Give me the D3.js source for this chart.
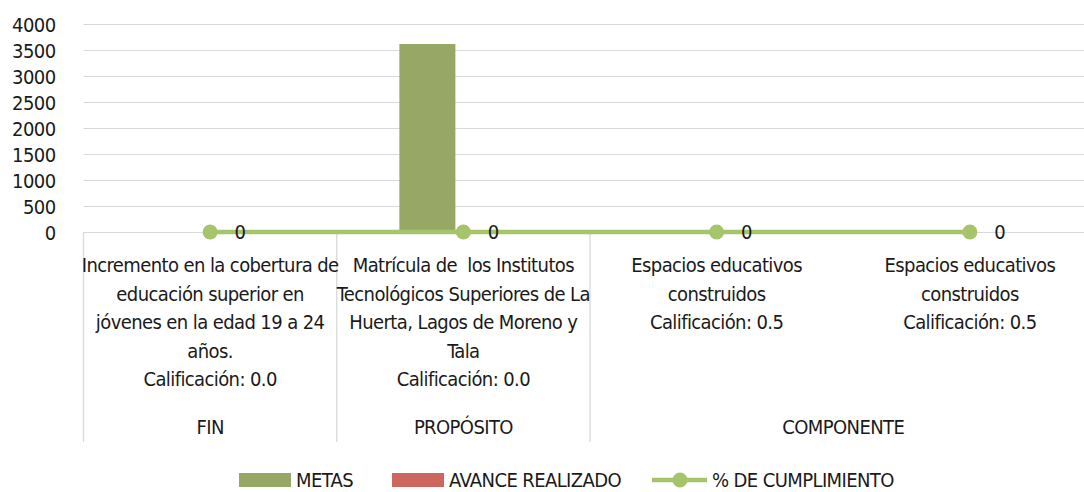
<!DOCTYPE html>
<html>
<head>
<meta charset="utf-8">
<script src="https://cdn.jsdelivr.net/npm/d3@7"></script>
<style>
  body { margin:0; background:#fff; }
  svg text { font-family:"Liberation Sans Narrow","DejaVu Sans Condensed","Roboto Condensed",sans-serif; fill:#1a1a1a; white-space:pre; }
  svg text.cat { letter-spacing:-0.6px; }
</style>
</head>
<body>
<div id="chart"></div>
<script>
/*  Chart data  */
var categories = [
  "Incremento en la cobertura de\neducación superior en\njóvenes en la edad 19 a 24\naños.\nCalificación: 0.0",
  "Matrícula de  los Institutos\nTecnológicos Superiores de La\nHuerta, Lagos de Moreno y\nTala\nCalificación: 0.0",
  "Espacios educativos\nconstruidos\nCalificación: 0.5",
  "Espacios educativos\nconstruidos\nCalificación: 0.5"
];
var groups = ["FIN", "PROPÓSITO", "COMPONENTE", "COMPONENTE"];
var metas = [0, 3615, 0, 0];
var avance = [0, 0, 0, 0];
var cumplimiento = [0, 0, 0, 0];
var yTicks = [0, 500, 1000, 1500, 2000, 2500, 3000, 3500, 4000];
var seriesNames = ["METAS", "AVANCE REALIZADO", "% DE CUMPLIMIENTO"];


/*  Layout  */
var W = 1084, H = 492;
var plotLeft = 83.5, plotRight = 1096.5, plotTop = 24, base = 232;
var fs = "20px";
var colors = { metas:"#97a866", avance:"#cd665f", line:"#a6c46a", grid:"#d9d9d9" };

var svg = d3.select("#chart").append("svg")
            .attr("width", W)
            .attr("height", H);

var x = d3.scaleBand()
          .domain(d3.range(categories.length))
          .range([plotLeft, plotRight]);

var bw = x.bandwidth();
var xInner = d3.scaleBand()
               .domain(["metas", "avance"])
               .range([bw/2 - 64, bw/2 + 64])
               .paddingInner(0.2222);

var y = d3.scaleLinear()
          .domain([0, 4000])
          .range([base, plotTop]);


/*  Grid + y axis  */
var yAxis = svg.append("g")
               .attr("transform", "translate(" + plotLeft + ",0)")
               .call(d3.axisLeft(y).tickValues(yTicks).tickSize(-(W - plotLeft)).tickFormat(d3.format("d")));
yAxis.select(".domain").remove();
yAxis.selectAll(".tick line").attr("stroke", colors.grid).attr("stroke-width", 1);
yAxis.selectAll(".tick text")
     .attr("class", "cat")
     .attr("x", -28)
     .attr("dy", "0.35em")
     .style("font-size", fs);


/*  Group dividers (one at each group edge)  */
var groupSpans = [];
groups.forEach(function(g, i){
  var last = groupSpans[groupSpans.length - 1];
  if (last && last.name === g) last.end = i;
  else groupSpans.push({ name:g, start:i, end:i });
});

svg.selectAll("line.div")
   .data(groupSpans)
   .enter().append("line")
   .attr("x1", function(d){ return x(d.start); })
   .attr("x2", function(d){ return x(d.start); })
   .attr("y1", base)
   .attr("y2", 442)
   .attr("stroke", colors.grid)
   .attr("stroke-width", 1.3);


/*  Bars  */
var bars = [];
categories.forEach(function(c, i){
  bars.push({ i:i, key:"metas", v:metas[i] });
  bars.push({ i:i, key:"avance", v:avance[i] });
});
svg.selectAll("rect.bar")
   .data(bars)
   .enter().append("rect")
   .attr("class", "bar")
   .attr("x", function(d){ return x(d.i) + xInner(d.key); })
   .attr("width", xInner.bandwidth())
   .attr("y", function(d){ return y(d.v); })
   .attr("height", function(d){ return base - y(d.v); })
   .attr("fill", function(d){ return colors[d.key]; });


/*  Line series  */
var cx = function(d, i){ return x(i) + bw/2; };
svg.append("path")
   .datum(cumplimiento)
   .attr("d", d3.line().x(cx).y(function(d){ return y(d); }))
   .attr("fill", "none")
   .attr("stroke", colors.line)
   .attr("stroke-width", 4.5);

svg.selectAll("circle.pt")
   .data(cumplimiento)
   .enter().append("circle")
   .attr("cx", cx)
   .attr("cy", function(d){ return y(d); })
   .attr("r", 7.5)
   .attr("fill", colors.line);

svg.selectAll("text.lbl")
   .data(cumplimiento)
   .enter().append("text")
   .attr("x", function(d, i){ return cx(d, i) + 30; })
   .attr("y", function(d){ return y(d); })
   .attr("dy", "0.35em")
   .attr("text-anchor", "middle")
   .style("font-size", fs)
   .text(function(d){ return d; });


/*  Category labels  */
categories.forEach(function(c, i){
  var t = svg.append("text")
             .attr("class", "cat")
             .attr("text-anchor", "middle")
             .style("font-size", fs);
  c.split("\n").forEach(function(line, j){
    t.append("tspan")
     .attr("x", x(i) + bw/2)
     .attr("y", 272 + j*28.5)
     .text(line);
  });
});

svg.selectAll("text.grp")
   .data(groupSpans)
   .enter().append("text")
   .attr("class", "cat")
   .attr("x", function(d){ return (x(d.start) + x(d.end) + bw)/2; })
   .attr("y", 434)
   .attr("text-anchor", "middle")
   .style("font-size", fs)
   .text(function(d){ return d.name; });


/*  Legend  */
var leg = svg.append("g").attr("transform", "translate(0,480)");
leg.append("rect").attr("x", 239).attr("y", -7).attr("width", 52).attr("height", 14).attr("fill", colors.metas);
leg.append("text").attr("class", "cat").attr("x", 296).attr("dy", "0.35em").style("font-size", fs).text(seriesNames[0]);
leg.append("rect").attr("x", 392).attr("y", -7).attr("width", 52).attr("height", 14).attr("fill", colors.avance);
leg.append("text").attr("class", "cat").attr("x", 449).attr("dy", "0.35em").style("font-size", fs).text(seriesNames[1]);
leg.append("line").attr("x1", 652).attr("x2", 707).attr("stroke", colors.line).attr("stroke-width", 4.5);
leg.append("circle").attr("cx", 680).attr("r", 7.5).attr("fill", colors.line);
leg.append("text").attr("class", "cat").attr("x", 712).attr("dy", "0.35em").style("font-size", fs).text(seriesNames[2]);
</script>
</body>
</html>
